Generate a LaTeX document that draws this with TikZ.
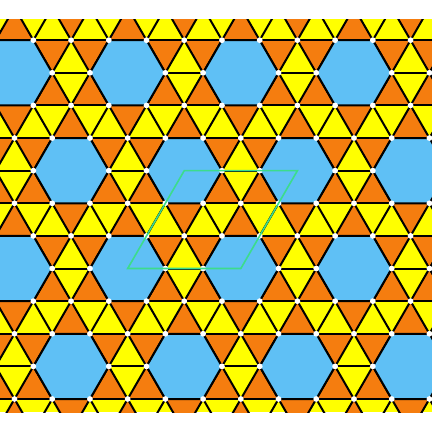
\documentclass[tikz,border=0pt]{standalone}
\definecolor{tyellow}{RGB}{255,255,0}
\definecolor{torange}{RGB}{245,125,15}
\definecolor{tblue}{RGB}{95,192,245}
\definecolor{tgreen}{RGB}{60,220,140}
\tikzset{
  edge/.style={black, line width=2pt},
  star/.style={fill=torange},
  hexa/.style={fill=tblue, draw=black, line width=2pt, line join=miter},
  vdot/.style={fill=white},
  cell/.style={draw=tgreen, line width=1.6pt, line join=miter}
}
\begin{document}
\begin{tikzpicture}[x=1pt,y=-1pt]
\def\A{37.72}\def\H{32.62}\def\OX{14.5}\def\OY{72.8}
\useasboundingbox (0,0) rectangle (432,432);
\begin{scope}
\clip (0,19) rectangle (432,412.3);
\fill[tyellow] (0,19) rectangle (432,412.3);
% orange hexagrams
\foreach \n in {-1,...,4}{
  \foreach \m in {-5,...,5}{
    \pgfmathsetmacro\cx{\OX+\m*3*\A+\n*1.5*\A}
    \pgfmathsetmacro\cy{\OY+\n*3*\H}
    \fill[star] (\cx,\cy-2*\H) -- (\cx+1.5*\A,\cy+\H) -- (\cx-1.5*\A,\cy+\H) -- cycle;
    \fill[star] (\cx,\cy+2*\H) -- (\cx+1.5*\A,\cy-\H) -- (\cx-1.5*\A,\cy-\H) -- cycle;
  }
}
% lattice lines
\foreach \j in {-3,...,13}{
  \draw[edge] (-10,\OY+\j*\H) -- (442,\OY+\j*\H);
}
\foreach \i in {-12,...,14}{
  \draw[edge] (\OX+\i*\A-1.5*\A,\OY-3*\H) -- (\OX+\i*\A+6.5*\A,\OY+13*\H);
}
\foreach \s in {-2,...,22}{
  \draw[edge] (\OX+\s*\A+1.5*\A,\OY-3*\H) -- (\OX+\s*\A-6.5*\A,\OY+13*\H);
}
% blue hexagons
\foreach \n in {-1,...,4}{
  \foreach \m in {-5,...,5}{
    \pgfmathsetmacro\cx{\OX+\m*3*\A+\n*1.5*\A}
    \pgfmathsetmacro\cy{\OY+\n*3*\H}
    \filldraw[hexa] (\cx+\A,\cy) -- (\cx+0.5*\A,\cy+\H) -- (\cx-0.5*\A,\cy+\H)
      -- (\cx-\A,\cy) -- (\cx-0.5*\A,\cy-\H) -- (\cx+0.5*\A,\cy-\H) -- cycle;
  }
}
% white vertex dots
\foreach \j in {-2,...,11}{
  \foreach \i in {-8,...,13}{
    \pgfmathtruncatemacro\ishex{and(mod(\i,3)==0, mod(\j,3)==0)}
    \ifnum\ishex=0
      \fill[vdot] (\OX+\i*\A+\j*0.5*\A,\OY+\j*\H) circle (2.9);
    \fi
  }
}
% unit cell
\coordinate (TL) at (\OX+4.5*\A,\OY+3*\H);
\coordinate (TR) at (\OX+7.5*\A,\OY+3*\H);
\coordinate (BR) at (\OX+6*\A,\OY+6*\H);
\coordinate (BL) at (\OX+3*\A,\OY+6*\H);
\draw[cell] (TL) -- (TR) -- (BR) -- (BL) -- cycle;
\end{scope}
\end{tikzpicture}
\end{document}
